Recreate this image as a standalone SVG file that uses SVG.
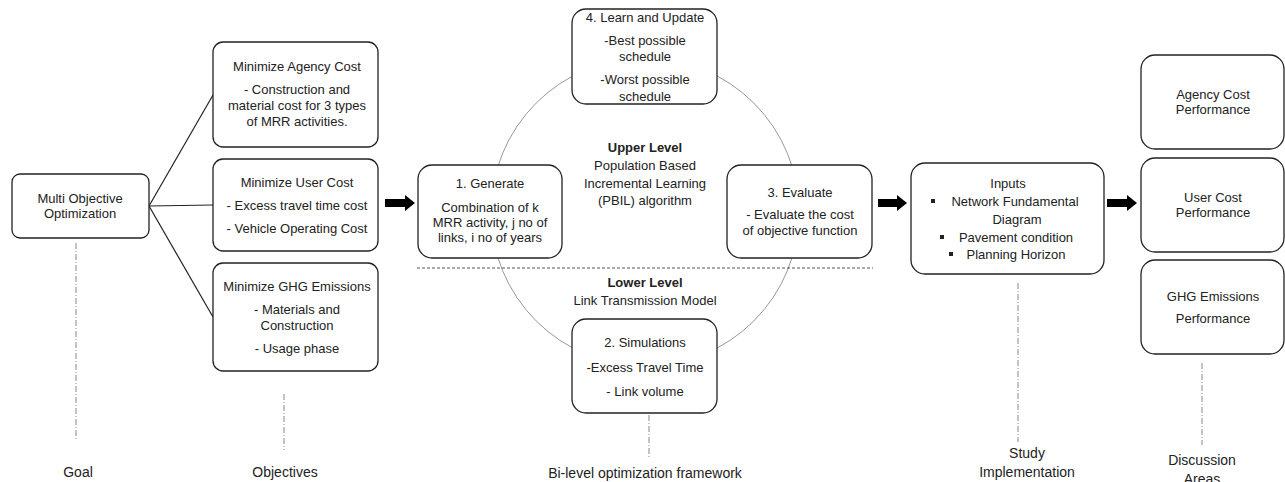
<svg xmlns="http://www.w3.org/2000/svg" width="1285" height="482" viewBox="0 0 1285 482">
<style>
.box{fill:#fff;stroke:#222;stroke-width:1.3}
.t{font-family:"Liberation Sans",Arial,sans-serif;font-size:13px;fill:#222;text-anchor:middle}
.lb{font-size:14px}
.b{font-weight:bold}
.ln{stroke:#222;stroke-width:1.2;fill:none}
.dd{stroke:#888;stroke-width:1;stroke-dasharray:6,2,1,2;fill:none}
.circ{stroke:#999;stroke-width:1;fill:none}
.ar{fill:#000}
</style>
<rect width="1285" height="482" fill="#fff"/>
<g id="connectors">
<circle class="circ" cx="645" cy="212" r="154"/>
<line x1="417" y1="268" x2="873" y2="268" stroke="#555" stroke-width="1" stroke-dasharray="3,2"/>
<line class="ln" x1="149" y1="206" x2="213" y2="95"/>
<line class="ln" x1="149" y1="206" x2="213" y2="205"/>
<line class="ln" x1="149" y1="206" x2="213" y2="317"/>
<polygon class="ar" points="385,199 405,199 405,195 415,203 405,211 405,207 385,207"/>
<polygon class="ar" points="878,199 897,199 897,195 907,203 897,211 897,207 878,207"/>
<polygon class="ar" points="1107,199 1127,199 1127,195 1137,203 1127,211 1127,207 1107,207"/>
<line class="dd" x1="76" y1="243" x2="76" y2="439"/>
<line class="dd" x1="284" y1="394" x2="284" y2="450"/>
<line class="dd" x1="649" y1="415" x2="649" y2="457"/>
<line class="dd" x1="1018" y1="283" x2="1018" y2="442"/>
<line class="dd" x1="1202" y1="363" x2="1202" y2="445"/>
</g>
<g id="goal">
<rect class="box" x="12" y="174" width="137" height="64" rx="8"/>
<text class="t" x="80" y="203">Multi Objective</text>
<text class="t" x="80" y="218">Optimization</text>
</g>
<g id="agency">
<rect class="box" x="213" y="42" width="165" height="105" rx="10"/>
<text class="t" x="297" y="71">Minimize Agency Cost</text>
<text class="t" x="297" y="94">- Construction and</text>
<text class="t" x="297" y="110">material cost for 3 types</text>
<text class="t" x="297" y="126">of MRR activities.</text>
</g>
<g id="user">
<rect class="box" x="213" y="159" width="165" height="92" rx="10"/>
<text class="t" x="297" y="187">Minimize User Cost</text>
<text class="t" x="297" y="210">- Excess travel time cost</text>
<text class="t" x="297" y="233">- Vehicle Operating Cost</text>
</g>
<g id="ghg">
<rect class="box" x="213" y="263" width="165" height="108" rx="10"/>
<text class="t" x="297" y="291">Minimize GHG Emissions</text>
<text class="t" x="297" y="314">- Materials and</text>
<text class="t" x="297" y="330">Construction</text>
<text class="t" x="297" y="353">- Usage phase</text>
</g>
<g id="learn">
<rect class="box" x="572" y="9" width="145" height="95" rx="14"/>
<text class="t" x="645" y="22">4. Learn and Update</text>
<text class="t" x="645" y="45">-Best possible</text>
<text class="t" x="645" y="61">schedule</text>
<text class="t" x="645" y="84">-Worst possible</text>
<text class="t" x="645" y="101">schedule</text>
</g>
<g id="generate">
<rect class="box" x="418" y="165" width="144" height="93" rx="14"/>
<text class="t" x="490" y="188">1. Generate</text>
<text class="t" x="490" y="212">Combination of k</text>
<text class="t" x="490" y="227">MRR activity, j no of</text>
<text class="t" x="490" y="242">links, i no of years</text>
</g>
<g id="evaluate">
<rect class="box" x="727" y="165" width="145" height="93" rx="14"/>
<text class="t" x="800" y="197">3. Evaluate</text>
<text class="t" x="800" y="219">- Evaluate the cost</text>
<text class="t" x="800" y="235">of objective function</text>
</g>
<g id="simulations">
<rect class="box" x="572" y="319" width="145" height="94" rx="14"/>
<text class="t" x="645" y="347">2. Simulations</text>
<text class="t" x="645" y="372">-Excess Travel Time</text>
<text class="t" x="645" y="396">- Link volume</text>
</g>
<g id="levels">
<text class="t b" x="645" y="152">Upper Level</text>
<text class="t" x="645" y="170">Population Based</text>
<text class="t" x="645" y="188">Incremental Learning</text>
<text class="t" x="645" y="205">(PBIL) algorithm</text>
<text class="t b" x="645" y="287">Lower Level</text>
<text class="t" x="645" y="305">Link Transmission Model</text>
</g>
<g id="inputs">
<rect class="box" x="911" y="163" width="193" height="111" rx="14"/>
<text class="t" x="1008" y="188">Inputs</text>
<rect x="931" y="199" width="4" height="4" fill="#222"/>
<text class="t" x="1015" y="206">Network Fundamental</text>
<text class="t" x="1017" y="224">Diagram</text>
<rect x="940" y="235" width="4" height="4" fill="#222"/>
<text class="t" x="1016" y="242">Pavement condition</text>
<rect x="949" y="252" width="4" height="4" fill="#222"/>
<text class="t" x="1016" y="259">Planning Horizon</text>
</g>
<g id="agency-perf">
<rect class="box" x="1141" y="55" width="143" height="94" rx="14"/>
<text class="t" x="1213" y="99">Agency Cost</text>
<text class="t" x="1213" y="114">Performance</text>
</g>
<g id="user-perf">
<rect class="box" x="1141" y="158" width="143" height="94" rx="14"/>
<text class="t" x="1213" y="202">User Cost</text>
<text class="t" x="1213" y="217">Performance</text>
</g>
<g id="ghg-perf">
<rect class="box" x="1141" y="260" width="143" height="94" rx="14"/>
<text class="t" x="1213" y="301">GHG Emissions</text>
<text class="t" x="1213" y="323">Performance</text>
</g>
<g id="labels">
<text class="t lb" x="78" y="477">Goal</text>
<text class="t lb" x="285" y="477">Objectives</text>
<text class="t lb" x="645" y="478">Bi-level optimization framework</text>
<text class="t lb" x="1027" y="458">Study</text>
<text class="t lb" x="1027" y="477">Implementation</text>
<text class="t lb" x="1202" y="465">Discussion</text>
<text class="t lb" x="1202" y="484">Areas</text>
</g>
</svg>
